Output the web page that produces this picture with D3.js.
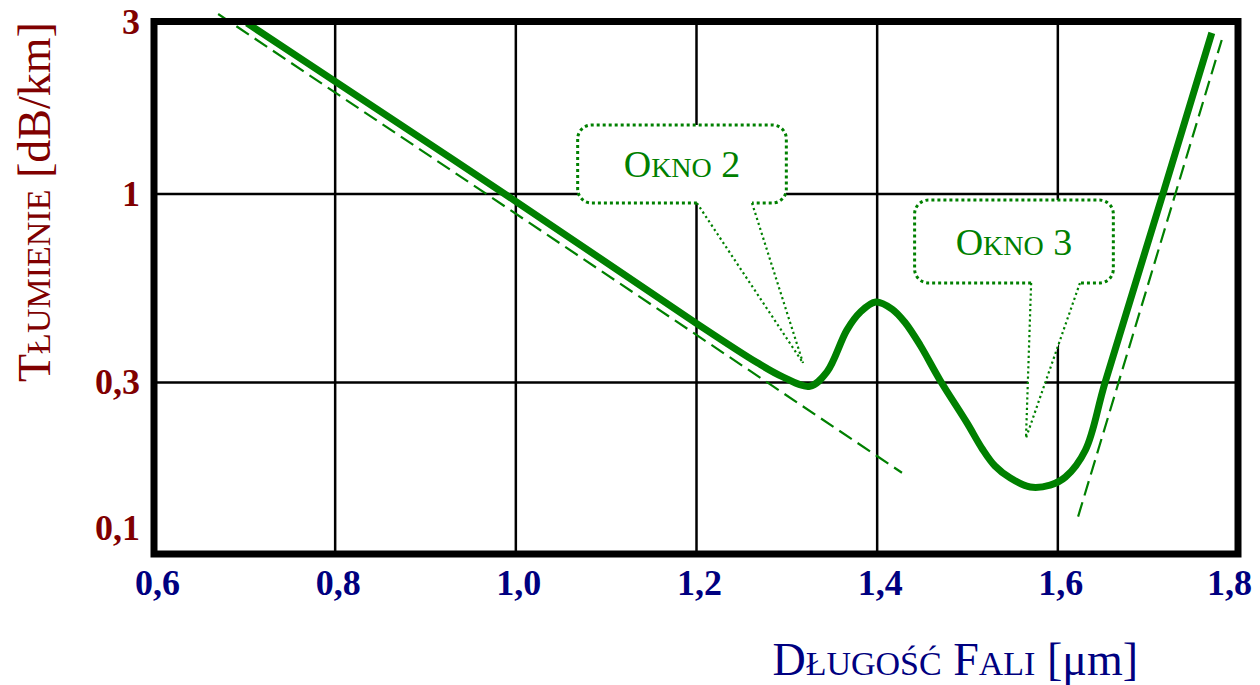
<!DOCTYPE html>
<html>
<head>
<meta charset="utf-8">
<script src="https://cdn.jsdelivr.net/npm/d3@7"></script>
<style>
  html, body { margin: 0; padding: 0; background: #fff; }
  svg { display: block; font-family: "Liberation Serif", "Times New Roman", serif; }
</style>
</head>
<body>
<div id="chart"></div>
<script>
// axis ticks
const xTicks = [0.6, 0.8, 1.0, 1.2, 1.4, 1.6, 1.8];
const yTicks = [3, 1, 0.3, 0.1];

// measured attenuation curve (wavelength in µm, attenuation in dB/km)
const curveLambda = [0.703, 0.80, 1.00, 1.20, 1.268, 1.296, 1.326, 1.345, 1.367, 1.382, 1.399,
  1.417, 1.431, 1.448, 1.470, 1.500, 1.517, 1.531, 1.548, 1.570, 1.592, 1.609, 1.631,
  1.653, 1.717, 1.771];
const curveAtt = [2.97, 2.05, 0.953, 0.437, 0.339, 0.310, 0.292, 0.320, 0.418, 0.469, 0.500,
  0.478, 0.440, 0.380, 0.304, 0.231, 0.1956, 0.1754, 0.1624, 0.1534, 0.1553, 0.1635, 0.194,
  0.30, 1.0, 2.79];

// asymptotes (Rayleigh scattering and infrared absorption)
const rayleighLambda = [0.671, 1.428];
const rayleighAtt = [3.147, 0.168];
const infraredLambda = [1.623, 1.782];
const infraredAtt = [0.127, 2.666];

// callouts: label, box [left, right, top, bottom], tail base [left, right], tip [lambda, att]
const calloutLabels = ["Okno 2", "Okno 3"];
const calloutBoxes = [[1.069, 1.300, 1.549, 0.941], [1.442, 1.662, 0.959, 0.5645]];
const calloutBases = [[1.201, 1.262], [1.571, 1.625]];
const calloutTips = [[1.3185, 0.3387], [1.5653, 0.2098]];

const xTitle = "Długość Fali";
const xUnit = " [μm]";
const yTitle = "Tłumienie";
const yUnit = " [dB/km]";

const width = 1260;
const height = 685;
const green = "#008000";
const navy = "#000080";
const maroon = "#800000";

const x = d3.scaleLinear().domain([0.6, 1.8]).range([154, 1238]);
const y = d3.scaleLog().domain([0.1, 3]).range([554, 21.5]);

const svg = d3.select("#chart").append("svg")
  .attr("width", width)
  .attr("height", height)
  .attr("viewBox", [0, 0, width, height]);

const comma = v => String(v).replace(".", ",");

// vertical grid + x labels
svg.append("g")
  .attr("transform", `translate(0,${y(0.1)})`)
  .call(d3.axisBottom(x).tickValues(xTicks)
    .tickSize(-(y(0.1) - y(3)))
    .tickPadding(15)
    .tickFormat(d => d3.format(".1f")(d).replace(".", ",")))
  .call(g => g.select(".domain").remove())
  .call(g => g.selectAll(".tick line").attr("stroke", "#000").attr("stroke-width", 2.5))
  .call(g => g.selectAll(".tick text")
    .attr("dx", d => Math.min(3, 1252 - 23 - x(d)))
    .attr("fill", navy)
    .attr("font-size", 36)
    .attr("font-weight", "bold")
    .attr("font-family", "Liberation Serif, Times New Roman, serif"));

// horizontal grid + y labels
svg.append("g")
  .attr("transform", `translate(${x(0.6)},0)`)
  .call(d3.axisLeft(y).tickValues(yTicks)
    .tickSize(-(x(1.8) - x(0.6)))
    .tickPadding(14)
    .tickFormat(comma))
  .call(g => g.select(".domain").remove())
  .call(g => g.selectAll(".tick line").attr("stroke", "#000").attr("stroke-width", 2.5))
  .call(g => g.selectAll(".tick text")
    .attr("y", d => Math.min(0, (y(0.1) - 26) - y(d)))
    .attr("fill", maroon)
    .attr("font-size", 36)
    .attr("font-weight", "bold")
    .attr("font-family", "Liberation Serif, Times New Roman, serif"));

// small caps: lowercase runs become smaller uppercase letters
function smallCaps(text, str, big, small) {
  const runs = [];
  for (const ch of str) {
    const low = ch !== ch.toUpperCase();
    if (runs.length && runs[runs.length - 1].low === low) runs[runs.length - 1].s += ch;
    else runs.push({ low, s: ch });
  }
  runs.forEach(r => {
    text.append("tspan")
      .attr("font-size", r.low ? small : big)
      .text(r.low ? r.s.toUpperCase() : r.s);
  });
}

// callouts
calloutLabels.forEach((label, i) => {
  const [l0, l1, a0, a1] = calloutBoxes[i];
  const left = x(l0), right = x(l1), top = y(a0), bottom = y(a1);
  const bl = x(calloutBases[i][0]), br = x(calloutBases[i][1]);
  const tx = x(calloutTips[i][0]), ty = y(calloutTips[i][1]);
  const r = 14;

  const box = d3.path();
  box.moveTo(bl, bottom);
  box.lineTo(left + r, bottom);
  box.arcTo(left, bottom, left, bottom - r, r);
  box.lineTo(left, top + r);
  box.arcTo(left, top, left + r, top, r);
  box.lineTo(right - r, top);
  box.arcTo(right, top, right, top + r, r);
  box.lineTo(right, bottom - r);
  box.arcTo(right, bottom, right - r, bottom, r);
  box.lineTo(br, bottom);

  const g = svg.append("g");
  g.append("path")
    .attr("d", box.toString() + `L${tx},${ty}Z`)
    .attr("fill", "#fff")
    .attr("stroke", "none");
  g.append("path")
    .attr("d", box.toString())
    .attr("fill", "none")
    .attr("stroke", green)
    .attr("stroke-width", 3)
    .attr("stroke-dasharray", "3,3");
  g.append("path")
    .attr("d", `M${bl},${bottom}L${tx},${ty}M${br},${bottom}L${tx},${ty}`)
    .attr("fill", "none")
    .attr("stroke", green)
    .attr("stroke-width", 2.2)
    .attr("stroke-dasharray", "2.2,3");

  const t = g.append("text")
    .attr("x", (left + right) / 2)
    .attr("y", (top + bottom) / 2 + 13)
    .attr("text-anchor", "middle")
    .attr("fill", green);
  smallCaps(t, label, 38, 28);
});

const line = d3.line()
  .x(d => x(d[0]))
  .y(d => y(d[1]));

// asymptotes
[[rayleighLambda, rayleighAtt], [infraredLambda, infraredAtt]].forEach(([ls, as]) => {
  svg.append("path")
    .datum(ls.map((l, i) => [l, as[i]]))
    .attr("d", line)
    .attr("fill", "none")
    .attr("stroke", green)
    .attr("stroke-width", 2.2)
    .attr("stroke-dasharray", "15,7");
});

// main curve
svg.append("path")
  .datum(curveLambda.map((l, i) => [l, curveAtt[i]]))
  .attr("d", line.curve(d3.curveCatmullRom.alpha(0.5)))
  .attr("fill", "none")
  .attr("stroke", green)
  .attr("stroke-width", 7)
  .attr("stroke-linejoin", "round");

// frame
svg.append("rect")
  .attr("x", x(0.6))
  .attr("y", y(3))
  .attr("width", x(1.8) - x(0.6))
  .attr("height", y(0.1) - y(3))
  .attr("fill", "none")
  .attr("stroke", "#000")
  .attr("stroke-width", 7);

// axis titles
const xt = svg.append("text")
  .attr("x", 1138)
  .attr("y", 675)
  .attr("text-anchor", "end")
  .attr("fill", navy);
smallCaps(xt, xTitle, 46, 34);
xt.append("tspan").attr("font-size", 46).text(xUnit);

const yt = svg.append("text")
  .attr("transform", "translate(50,382) rotate(-90)")
  .attr("text-anchor", "start")
  .attr("fill", maroon);
smallCaps(yt, yTitle, 46, 34);
yt.append("tspan").attr("font-size", 46).text(yUnit);
</script>
</body>
</html>
